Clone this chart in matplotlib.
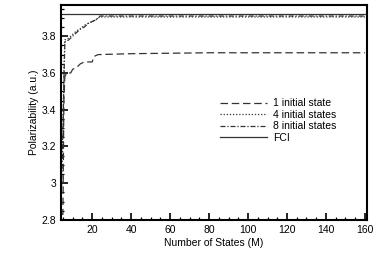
import matplotlib.pyplot as plt
from matplotlib.ticker import MultipleLocator

plt.rcParams['font.family'] = ['Liberation Sans', 'DejaVu Sans']

# Number of states (M)
m_one = [4, 5, 5.5, 6, 7, 9, 10, 12, 14, 16, 20, 21, 23, 40, 80, 160]
pol_one = [2.83, 2.83, 3.45, 3.58, 3.60, 3.60, 3.62, 3.63, 3.65, 3.66, 3.66, 3.69, 3.70, 3.705, 3.71, 3.71]

m_four = [4, 5, 5.5, 6, 8, 10, 12, 14, 16, 18, 20, 22, 24, 40, 80, 160]
pol_four = [2.98, 3.30, 3.60, 3.78, 3.79, 3.81, 3.83, 3.84, 3.86, 3.87, 3.88, 3.89, 3.905, 3.905, 3.905, 3.905]

m_eight = [4, 5, 5.5, 6, 8, 10, 12, 14, 16, 18, 20, 22, 24, 40, 80, 160]
pol_eight = [2.86, 3.25, 3.55, 3.77, 3.78, 3.80, 3.82, 3.84, 3.85, 3.87, 3.88, 3.89, 3.91, 3.91, 3.91, 3.91]

fci_value = 3.92

fig = plt.figure(figsize=(3.74, 2.64), dpi=100)
ax = fig.add_axes([0.163, 0.167, 0.818, 0.814])

ax.plot(m_one, pol_one, color='#333333', lw=0.9, ls=(0, (6, 3)), label='1 initial state')
ax.plot(m_four, pol_four, color='#333333', lw=0.9, ls=(0, (1, 1.5)), label='4 initial states')
ax.plot(m_eight, pol_eight, color='#333333', lw=0.9, ls=(0, (4, 1.5, 1, 1.5)), label='8 initial states')
ax.axhline(fci_value, color='#333333', lw=0.9, label='FCI')

ax.set_xlim(4, 161)
ax.set_ylim(2.8, 3.97)
ax.xaxis.set_minor_locator(MultipleLocator(5))
ax.yaxis.set_minor_locator(MultipleLocator(0.05))
ax.set_yticks([2.8, 3.0, 3.2, 3.4, 3.6, 3.8])
ax.set_yticklabels(['2.8', '3', '3.2', '3.4', '3.6', '3.8'])
ax.set_xticks([20, 40, 60, 80, 100, 120, 140, 160])

ax.tick_params(which='both', direction='in', labelsize=7.5, width=1.2)
ax.tick_params(which='major', length=5)
ax.tick_params(which='minor', length=2.5, width=0.9)
for s in ax.spines.values():
    s.set_linewidth(1.5)

ax.set_xlabel('Number of States (M)', fontsize=7.5, labelpad=2)
ax.set_ylabel('Polarizability (a.u.)', fontsize=7.5, labelpad=2)

ax.legend(loc='upper left', bbox_to_anchor=(0.49, 0.61), frameon=False, fontsize=7.5,
          handlelength=4.5, labelspacing=0.15, handletextpad=0.6)

fig.savefig('out.png', dpi=100)
